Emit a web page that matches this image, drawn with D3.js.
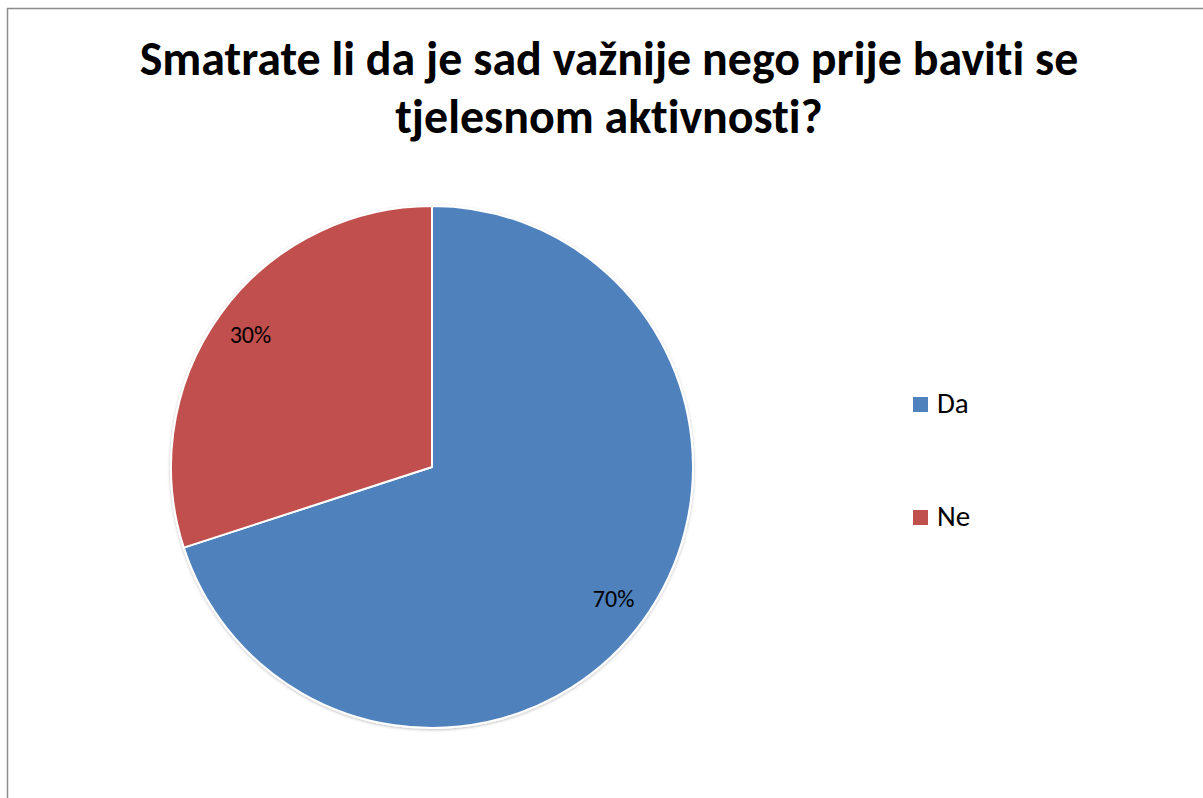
<!DOCTYPE html>
<html>
<head>
<meta charset="utf-8">
<script src="https://cdn.jsdelivr.net/npm/d3@7"></script>
<style>
  body { margin: 0; background: #fff; }
  svg { display: block; }
  text { font-variant-ligatures: none; font-feature-settings: "liga" 0, "clig" 0; }
</style>
</head>
<body>
<svg id="chart" width="1203" height="798"></svg>
<script>
const categories = ["Da", "Ne"]
const values = [70, 30]
const colors = ["#4F81BD", "#C0504D"]
const titleLines = ["Smatrate li da je sad važnije nego prije baviti se", "tjelesnom aktivnosti?"]

const svg = d3.select("#chart")
const font = "Carlito, Calibri, Lato, 'Open Sans', sans-serif"

// frame
svg.append("rect")
    .attr("x", 7.5).attr("y", 8.5)
    .attr("width", 1300).attr("height", 900)
    .attr("fill", "none")
    .attr("stroke", "#8c8c8c")
    .attr("stroke-width", 1.5)

// title
const title = svg.append("g")
    .attr("font-family", font)
    .attr("font-weight", "bold")
    .attr("fill", "#000")
    .attr("text-anchor", "middle")

title.selectAll("text")
    .data(titleLines)
    .enter().append("text")
    .attr("x", 609)
    .attr("y", (d, i) => 75 + i * 58)
    .attr("font-size", 40)
    .text(d => d)

// fit title size to the reference width of the first line
const w = title.select("text").node().getComputedTextLength()
const fs = 40 * 939 / w
title.selectAll("text").attr("font-size", fs)

// pie
const cx = 432, cy = 467, radius = 261
const pie = d3.pie().sort(null).value(d => d)
const arc = d3.arc().innerRadius(0).outerRadius(radius)
const labelArc = d3.arc().innerRadius(radius * 0.86).outerRadius(radius * 0.86)
const color = d3.scaleOrdinal().domain(categories).range(colors)

const defs = svg.append("defs")
const f = defs.append("filter").attr("id", "shadow")
    .attr("x", "-10%").attr("y", "-10%").attr("width", "120%").attr("height", "120%")
f.append("feDropShadow")
    .attr("dx", 0).attr("dy", 1).attr("stdDeviation", 1.5)
    .attr("flood-color", "#000").attr("flood-opacity", 0.25)

const plot = svg.append("g")
    .attr("transform", `translate(${cx},${cy})`)

const arcs = pie(values)

plot.append("g").attr("filter", "url(#shadow)")
    .selectAll("path")
    .data(arcs)
    .enter().append("path")
    .attr("d", arc)
    .attr("fill", (d, i) => color(categories[i]))
    .attr("stroke", "#fff")
    .attr("stroke-width", 2)
    .attr("stroke-linejoin", "round")

plot.selectAll(".label")
    .data(arcs)
    .enter().append("text")
    .attr("class", "label")
    .attr("transform", d => `translate(${labelArc.centroid(d)})`)
    .attr("text-anchor", "middle")
    .attr("dy", "0.35em")
    .attr("font-family", font)
    .attr("font-size", 24)
    .attr("fill", "#000")
    .text(d => d.value + "%")

// legend
const legend = svg.append("g")
    .attr("transform", "translate(913,397)")

const item = legend.selectAll("g")
    .data(categories)
    .enter().append("g")
    .attr("transform", (d, i) => `translate(0,${i * 113})`)

item.append("rect")
    .attr("width", 15).attr("height", 15)
    .attr("fill", d => color(d))

item.append("text")
    .attr("x", 24)
    .attr("y", 16)
    .attr("font-family", font)
    .attr("font-size", 29)
    .attr("fill", "#000")
    .text(d => d)
</script>
</body>
</html>
